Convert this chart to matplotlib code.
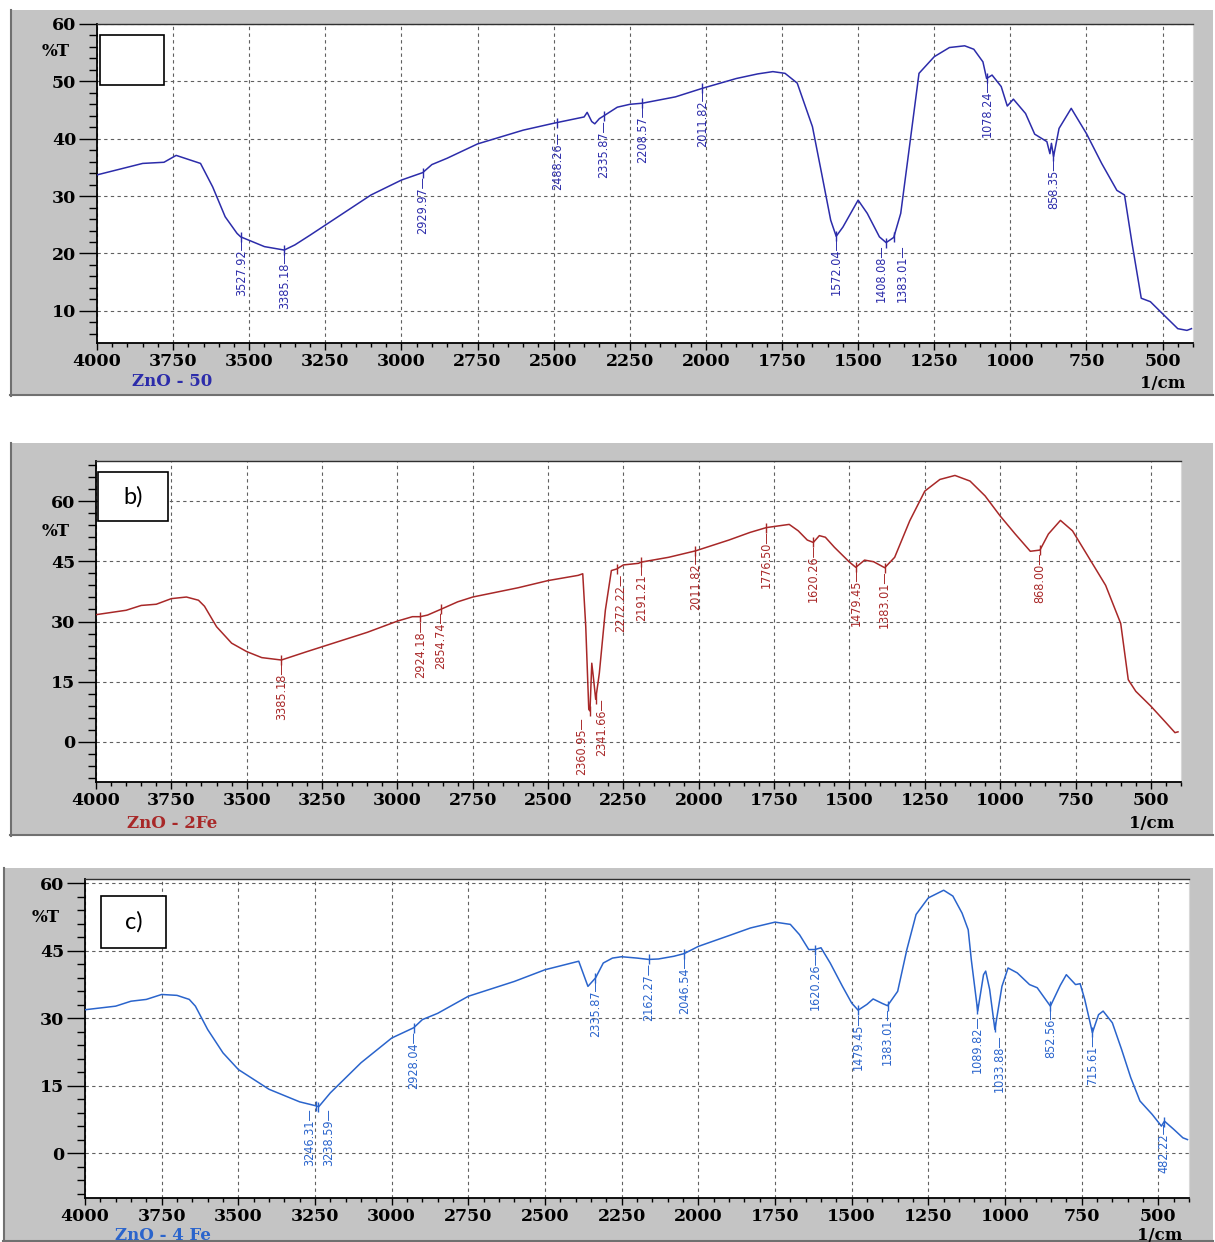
import numpy as np
import matplotlib
matplotlib.use("Agg")
import matplotlib.pyplot as plt
from matplotlib import font_manager as fm
from matplotlib.patches import Rectangle
from matplotlib.ticker import MultipleLocator

# ── Spectrum a) ZnO - 50 ────────────────────────────────────────────────
A_WN = [4000, 3850, 3780, 3740, 3700, 3660, 3620, 3579, 3540, 3528,
        3450, 3385, 3350, 3300, 3200, 3100, 3000, 2930, 2900, 2850,
        2750, 2600, 2500, 2400, 2390, 2375, 2365, 2350, 2335, 2291,
        2250, 2208, 2100, 2011, 1900, 1830, 1780, 1740, 1700, 1650,
        1620, 1590, 1572, 1550, 1500, 1470, 1430, 1408, 1383, 1360,
        1340, 1300, 1250, 1200, 1150, 1120, 1090, 1078, 1060, 1030,
        1010, 990, 950, 920, 880, 870, 865, 858, 840, 800,
        750, 700, 650, 625, 600, 570, 540, 500, 450, 420,
        405]
A_T = [33.7, 35.7, 35.9, 37.1, 36.4, 35.7, 31.6, 26.4, 23.5, 22.9,
       21.2, 20.6, 21.5, 23.2, 26.7, 30.2, 32.8, 34.1, 35.5, 36.6,
       39.1, 41.5, 42.7, 43.8, 44.6, 43.0, 42.6, 43.5, 44.0, 45.5,
       46.0, 46.2, 47.3, 48.8, 50.5, 51.3, 51.7, 51.4, 49.7, 42.1,
       34.0, 25.8, 23.0, 24.6, 29.3, 27.0, 22.9, 21.9, 22.8, 27.0,
       35.1, 51.4, 54.3, 55.9, 56.2, 55.6, 53.4, 50.5, 51.1, 49.1,
       45.7, 46.9, 44.4, 40.8, 39.5, 37.4, 39.2, 36.9, 41.8, 45.3,
       40.9, 35.7, 31.0, 30.2, 21.7, 12.2, 11.6, 9.5, 6.9, 6.6,
       6.9]
A_PEAKS = ["3527.92", "3385.18", "2929.97", "2488.26", "2335.87", "2208.57",
           "2011.82", "1572.04", "1408.08", "1383.01", "1078.24", "858.35"]

# ── Spectrum b) ZnO - 2Fe ───────────────────────────────────────────────
B_WN = [4000, 3900, 3850, 3800, 3750, 3700, 3660, 3640, 3600, 3550,
        3500, 3450, 3385, 3300, 3250, 3100, 3000, 2950, 2924, 2900,
        2854, 2800, 2750, 2600, 2500, 2400, 2385, 2375, 2365, 2361,
        2355, 2350, 2342, 2330, 2310, 2290, 2272, 2250, 2200, 2191,
        2100, 2011, 1900, 1830, 1776, 1700, 1670, 1640, 1620, 1600,
        1580, 1550, 1500, 1479, 1450, 1420, 1383, 1350, 1300, 1250,
        1200, 1150, 1100, 1050, 1000, 950, 900, 868, 840, 800,
        760, 700, 650, 600, 575, 550, 500, 450, 420, 410]
B_T = [31.7, 32.8, 34.0, 34.3, 35.7, 36.1, 35.3, 33.8, 28.7, 24.6,
       22.5, 21.0, 20.4, 22.5, 23.7, 27.3, 30.1, 31.2, 31.2, 31.6,
       33.1, 34.9, 36.1, 38.4, 40.2, 41.5, 41.9, 28.7, 8.1, 7.7,
       19.6, 16.3, 10.6, 17.1, 32.8, 42.7, 43.1, 44.1, 44.5, 44.8,
       46.0, 47.6, 50.3, 52.2, 53.4, 54.2, 52.6, 50.3, 49.7, 51.4,
       51.0, 48.5, 44.8, 43.5, 45.3, 44.9, 43.4, 46.0, 55.1, 62.5,
       65.4, 66.4, 65.0, 61.3, 56.3, 51.8, 47.5, 47.8, 51.8, 55.2,
       52.6, 45.2, 39.0, 29.5, 15.5, 12.6, 8.9, 4.8, 2.3, 2.5]
B_PEAKS = ["3385.18", "2924.18", "2854.74", "2360.95", "2341.66", "2272.22",
           "2191.21", "2011.82", "1776.50", "1620.26", "1479.45", "1383.01",
           "868.00"]

# ── Spectrum c) ZnO - 4 Fe ──────────────────────────────────────────────
C_WN = [4000, 3900, 3850, 3800, 3750, 3700, 3660, 3640, 3600, 3550,
        3500, 3400, 3300, 3246, 3238, 3200, 3100, 3000, 2928, 2900,
        2850, 2750, 2600, 2500, 2390, 2360, 2335, 2310, 2280, 2250,
        2200, 2162, 2130, 2080, 2046, 2000, 1900, 1830, 1750, 1700,
        1670, 1640, 1620, 1600, 1570, 1530, 1500, 1479, 1450, 1430,
        1400, 1383, 1350, 1320, 1290, 1250, 1200, 1170, 1140, 1120,
        1110, 1089, 1070, 1063, 1050, 1033, 1010, 990, 960, 920,
        895, 852, 820, 800, 770, 755, 740, 715, 695, 680,
        650, 620, 590, 560, 520, 490, 480, 450, 420, 405]
C_T = [31.9, 32.7, 33.8, 34.2, 35.3, 35.1, 34.2, 32.7, 27.5, 22.3,
       18.6, 14.2, 11.4, 10.5, 10.3, 13.4, 20.1, 25.6, 27.9, 29.7,
       31.1, 34.9, 38.2, 40.8, 42.7, 37.1, 39.0, 42.3, 43.4, 43.7,
       43.4, 43.1, 43.2, 43.8, 44.4, 46.0, 48.4, 50.1, 51.4, 50.9,
       48.6, 45.3, 45.3, 45.7, 42.3, 37.1, 33.4, 31.8, 33.1, 34.3,
       33.3, 32.8, 36.0, 45.3, 53.1, 56.8, 58.5, 57.2, 53.4, 49.7,
       43.1, 31.6, 39.7, 40.5, 36.4, 27.5, 37.1, 41.2, 40.1, 37.5,
       36.8, 32.7, 37.3, 39.7, 37.5, 37.7, 34.2, 26.8, 30.8, 31.6,
       29.0, 23.1, 16.8, 11.6, 8.6, 6.0, 7.1, 5.3, 3.4, 3.0]
C_PEAKS = ["3246.31", "3238.59", "2928.04", "2335.87", "2162.27", "2046.54",
           "1620.26", "1479.45", "1383.01", "1089.82", "1033.88", "852.56",
           "715.61", "482.22"]

# label placement: (x of text in 1/cm, top of text in %T)
A_LBL = [(3524, 22.6), (3385, 20.3), (2930, 33.5), (2488, 41.2), (2336, 43.2),
         (2208, 45.8), (2012, 48.6), (1572, 22.8), (1423, 21.6), (1355, 21.6),
         (1077, 50.4), (858, 36.5)]
B_LBL = [(3385, 19.8), (2924, 30.4), (2855, 32.5), (2389, 6.2), (2321, 10.8),
         (2259, 42.0), (2188, 44.5), (2012, 47.3), (1776, 52.8), (1620, 49.4),
         (1479, 43.2), (1383, 42.8), (868, 47.3)]
C_LBL = [(3269, 9.9), (3205, 9.9), (2928, 27.2), (2336, 38.7), (2162, 42.4),
         (2046, 43.9), (1620, 44.7), (1479, 31.3), (1383, 32.4), (1090, 30.6),
         (1018, 26.5), (852, 32.4), (714, 26.5), (482, 6.8)]

W, H = 1215, 1242
fig = plt.figure(figsize=(W / 100, H / 100), dpi=100)
fig.patch.set_facecolor("white")

SERIF = ["DejaVu Serif"]
GRAY = "#c4c4c4"

# narrow face for the peak picks, whichever is installed
_fonts = fm.fontManager.ttflist
if any(f.name == "Liberation Sans Narrow" for f in _fonts):
    PICK_FONT = dict(family="Liberation Sans Narrow", fontsize=10.5)
elif any(f.name == "DejaVu Sans" and f.stretch == "condensed" for f in _fonts):
    PICK_FONT = dict(family="DejaVu Sans", fontstretch="condensed", fontsize=9)
else:
    PICK_FONT = dict(family="Liberation Sans", fontsize=8.5)


def fx(x):
    return x / W


def fy(y):
    return 1 - y / H


def frame(l, t, r, b):
    fig.patches.append(Rectangle((fx(l), fy(b)), fx(r - l), (b - t) / H,
                                 transform=fig.transFigure, facecolor=GRAY,
                                 edgecolor="none", zorder=-5))
    fig.add_artist(plt.Line2D([fx(l + 1), fx(l + 1)], [fy(t), fy(b)],
                              transform=fig.transFigure, color="#707070",
                              lw=1.5, zorder=-4))
    fig.add_artist(plt.Line2D([fx(l), fx(r)], [fy(b - 1), fy(b - 1)],
                              transform=fig.transFigure, color="#707070",
                              lw=1.5, zorder=-4))


def panel(rect, wn, t, ylim, ystep, color, peaks, lbl, name, name_xy,
          unit_xy, pct_xy, box, box_text):
    l, tp, r, b = rect
    ax = fig.add_axes([fx(l), fy(b), fx(r - l), (b - tp) / H])
    ax.set_facecolor("white")
    ax.plot(wn, t, color=color, lw=1.1, zorder=3)
    ax.set_xlim(4000, 400)
    ax.set_ylim(*ylim)
    ax.xaxis.set_major_locator(MultipleLocator(250))
    ax.xaxis.set_minor_locator(MultipleLocator(50))
    ax.yaxis.set_major_locator(MultipleLocator(ystep))
    ax.yaxis.set_minor_locator(MultipleLocator(ystep / 5))
    ax.grid(True, which="major", color="#606060", lw=0.8, ls=(0, (3, 3)))
    ax.set_axisbelow(True)
    for s in ("left", "bottom"):
        ax.spines[s].set_color("black")
        ax.spines[s].set_linewidth(1.3)
    ax.spines["top"].set_color("#303030")
    ax.spines["top"].set_linewidth(1.0)
    ax.spines["right"].set_color("#d8d8d8")
    ax.tick_params(axis="y", which="major", length=13, width=1.0, pad=2)
    ax.tick_params(axis="y", which="minor", length=6, width=1.0)
    ax.tick_params(axis="x", which="major", length=5, width=1.0, pad=2)
    ax.tick_params(axis="x", which="minor", length=3, width=1.0)
    for lab in ax.get_xticklabels() + ax.get_yticklabels():
        lab.set_fontfamily(SERIF)
        lab.set_fontweight("bold")
        lab.set_fontsize(12.5)

    # peak picks
    wr, tr = np.array(wn)[::-1], np.array(t)[::-1]
    for p, (xt, yt) in zip(peaks, lbl):
        pv = float(p)
        ax.plot([pv], [np.interp(pv, wr, tr)], marker="|", ms=7, mew=1.0,
                color=color, zorder=4)
        ax.text(xt, yt, p + "\u2014", rotation=90, ha="center", va="top",
                color=color, zorder=5, **PICK_FONT)

    # sample box
    bl, bt, br, bb = box
    fig.patches.append(Rectangle((fx(bl), fy(bb)), fx(br - bl), (bb - bt) / H,
                                 transform=fig.transFigure, facecolor="white",
                                 edgecolor="black", lw=1.2, zorder=5))
    if box_text:
        fig.text(fx((bl + br) / 2), fy((bt + bb) / 2), box_text, ha="center",
                 va="center", fontsize=17, family=["Lato", "DejaVu Sans"],
                 zorder=6)

    fig.text(fx(name_xy[0]), fy(name_xy[1]), name, ha="center", va="center",
             fontsize=12, fontweight="bold", family=SERIF, color=color)
    fig.text(fx(unit_xy[0]), fy(unit_xy[1]), "1/cm", ha="center", va="center",
             fontsize=12, fontweight="bold", family=SERIF)
    fig.text(fx(pct_xy[0]), fy(pct_xy[1]), "%T", ha="center", va="center",
             fontsize=12, fontweight="bold", family=SERIF)
    return ax


frame(10, 10, 1213, 396)
frame(10, 443, 1213, 836)
frame(3, 868, 1213, 1242)

panel((97, 24, 1193, 343), A_WN, A_T, (4.4, 60), 10, "#2c2caa", A_PEAKS, A_LBL,
      "ZnO - 50", (172, 382), (1163, 383), (56, 52), (100, 35, 164, 85), "")
panel((96, 461, 1181, 782), B_WN, B_T, (-10, 70), 15, "#a82828", B_PEAKS, B_LBL,
      "ZnO - 2Fe", (172, 823), (1152, 823), (56, 532), (98, 472, 168, 521), "b)")
panel((85, 879, 1189, 1198), C_WN, C_T, (-10, 61), 15, "#2a64cc", C_PEAKS, C_LBL,
      "ZnO - 4 Fe", (163, 1235), (1160, 1235), (46, 917), (101, 896, 166, 948), "c)")

fig.savefig("out.png", dpi=100, facecolor=fig.get_facecolor())
